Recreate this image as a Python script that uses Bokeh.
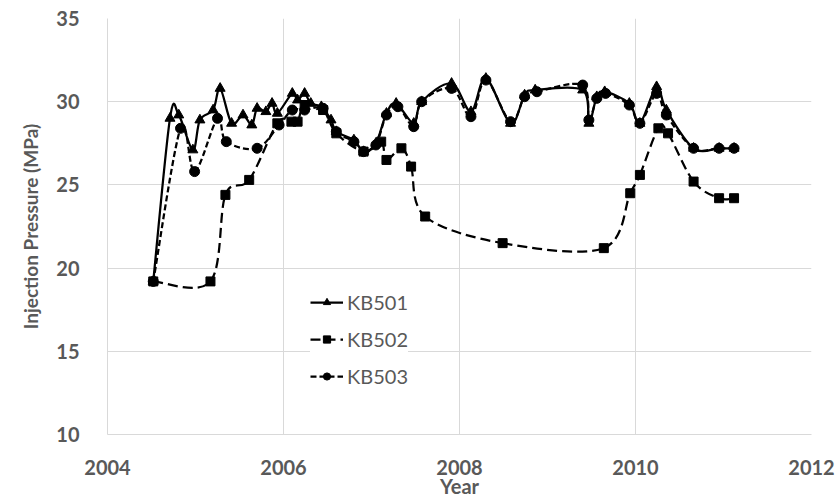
from bokeh.plotting import figure
from bokeh.models import Legend, LegendItem, FixedTicker, ColumnDataSource, Range1d
from bokeh.embed import file_html
from bokeh.resources import INLINE

# ---- data ----
kb501_year = [2004.52, 2004.71, 2004.81, 2004.97, 2005.05, 2005.20, 2005.28, 2005.41, 2005.54, 2005.64,
              2005.70, 2005.80, 2005.87, 2005.93, 2006.10, 2006.16, 2006.24, 2006.31, 2006.43, 2006.54,
              2006.60, 2006.80, 2006.91, 2007.05, 2007.17, 2007.28, 2007.48, 2007.57, 2007.91, 2008.13,
              2008.30, 2008.58, 2008.74, 2008.86, 2009.40, 2009.47, 2009.56, 2009.65, 2009.93, 2010.05,
              2010.24, 2010.35, 2010.66, 2010.95, 2011.12]
kb501_mpa = [19.2, 29.0, 29.2, 27.1, 28.9, 29.5, 30.8, 28.7, 29.2, 28.6,
             29.6, 29.4, 29.9, 29.3, 30.5, 30.1, 30.5, 29.9, 29.7, 28.9,
             28.2, 27.7, 27.0, 27.5, 29.3, 29.9, 28.7, 30.0, 31.1, 29.4,
             31.4, 28.7, 30.4, 30.7, 30.7, 28.7, 30.3, 30.6, 29.9, 28.7,
             30.9, 29.5, 27.2, 27.2, 27.2]

kb502_year = [2004.52, 2005.17, 2005.34, 2005.61, 2005.93, 2006.09, 2006.16, 2006.24, 2006.45, 2006.60,
              2006.91, 2007.11, 2007.17, 2007.34, 2007.45, 2007.61, 2008.49, 2009.64, 2009.94, 2010.05,
              2010.26, 2010.37, 2010.66, 2010.95, 2011.12]
kb502_mpa = [19.2, 19.2, 24.4, 25.3, 28.7, 28.8, 28.8, 29.8, 29.5, 28.1,
             27.0, 27.6, 26.5, 27.2, 26.1, 23.1, 21.5, 21.2, 24.5, 25.6,
             28.4, 28.1, 25.2, 24.2, 24.2]

kb503_year = [2004.52, 2004.83, 2004.99, 2005.25, 2005.35, 2005.70, 2005.95, 2006.10, 2006.24, 2006.45,
              2006.60, 2006.80, 2006.91, 2007.05, 2007.17, 2007.30, 2007.48, 2007.57, 2007.91, 2008.13,
              2008.30, 2008.58, 2008.74, 2008.88, 2009.40, 2009.47, 2009.56, 2009.66, 2009.93, 2010.05,
              2010.24, 2010.35, 2010.66, 2010.95, 2011.12]
kb503_mpa = [19.2, 28.4, 25.8, 29.0, 27.6, 27.2, 28.6, 29.5, 29.5, 29.6,
             28.2, 27.6, 27.0, 27.4, 29.2, 29.7, 28.5, 30.0, 30.8, 29.1,
             31.3, 28.8, 30.3, 30.6, 31.0, 28.9, 30.2, 30.5, 29.8, 28.7,
             30.5, 29.2, 27.2, 27.2, 27.2]

x_ticks = [2004, 2006, 2008, 2010, 2012]
y_ticks = [10, 15, 20, 25, 30, 35]

GRAY = "#595959"
GRID = "#d9d9d9"
FONT = "Lato"


def smooth_segments(xs, ys):
    """Catmull-Rom style control points (Excel-like smoothed line) for bezier glyphs."""
    n = len(xs)
    d = dict(x0=[], y0=[], x1=[], y1=[], cx0=[], cy0=[], cx1=[], cy1=[])
    for i in range(n - 1):
        a = i - 1 if i > 0 else i
        b = i + 2 if i + 2 < n else i + 1
        d["x0"].append(xs[i]); d["y0"].append(ys[i])
        d["x1"].append(xs[i + 1]); d["y1"].append(ys[i + 1])
        d["cx0"].append(xs[i] + (xs[i + 1] - xs[a]) / 6.0)
        d["cy0"].append(ys[i] + (ys[i + 1] - ys[a]) / 6.0)
        d["cx1"].append(xs[i + 1] - (xs[b] - xs[i]) / 6.0)
        d["cy1"].append(ys[i + 1] - (ys[b] - ys[i]) / 6.0)
    return ColumnDataSource(d)


p = figure(width=839, height=500, output_backend="svg", toolbar_location=None,
           x_range=Range1d(2004, 2012), y_range=Range1d(10, 35),
           min_border_left=107, min_border_right=28, min_border_top=18, min_border_bottom=66)

p.outline_line_color = None
p.background_fill_color = "white"
p.border_fill_color = "white"

p.xaxis.ticker = FixedTicker(ticks=x_ticks)
p.yaxis.ticker = FixedTicker(ticks=y_ticks)
for ax in (p.xaxis, p.yaxis):
    ax.axis_line_color = GRID
    ax.major_tick_line_color = None
    ax.minor_tick_line_color = None
    ax.major_label_text_font = FONT
    ax.major_label_text_font_style = "bold"
    ax.major_label_text_font_size = "20px"
    ax.major_label_text_color = GRAY
    ax.axis_label_text_font = FONT
    ax.axis_label_text_font_style = "bold"
    ax.axis_label_text_color = GRAY
p.xaxis.axis_label = "Year"
p.xaxis.axis_label_text_font_size = "20px"
p.xaxis.major_label_standoff = 19
p.xaxis.axis_label_standoff = -4
p.yaxis.axis_label = "Injection Pressure (MPa)"
p.yaxis.axis_label_text_font_size = "19px"
p.yaxis.major_label_standoff = 22
p.yaxis.axis_label_standoff = 11

p.xgrid.grid_line_color = GRID
p.ygrid.grid_line_color = GRID

series = [
    ("KB501", kb501_year, kb501_mpa, "solid", "triangle", 10),
    ("KB502", kb502_year, kb502_mpa, "10 5", "square", 9),
    ("KB503", kb503_year, kb503_mpa, "6 3", "circle", 10),
]

items = []
for name, xs, ys, dash, marker, size in series:
    src = smooth_segments(xs, ys)
    bz = p.bezier(x0="x0", y0="y0", x1="x1", y1="y1", cx0="cx0", cy0="cy0", cx1="cx1", cy1="cy1",
                  source=src, line_color="black", line_width=2.25, line_dash=dash)
    sc = p.scatter(xs, ys, marker=marker, size=size, fill_color="black", line_color="black")
    items.append(LegendItem(label=name, renderers=[bz, sc]))

legend = Legend(items=items, location=(203, 43), orientation="vertical",
                label_text_font=FONT, label_text_font_size="20px", label_text_color=GRAY,
                glyph_width=33, glyph_height=18, label_height=30, spacing=7,
                label_standoff=4, padding=10, margin=0,
                border_line_color=None, background_fill_color="white", background_fill_alpha=1.0)
p.add_layout(legend)

open("out.html", "w").write(file_html(p, INLINE))
